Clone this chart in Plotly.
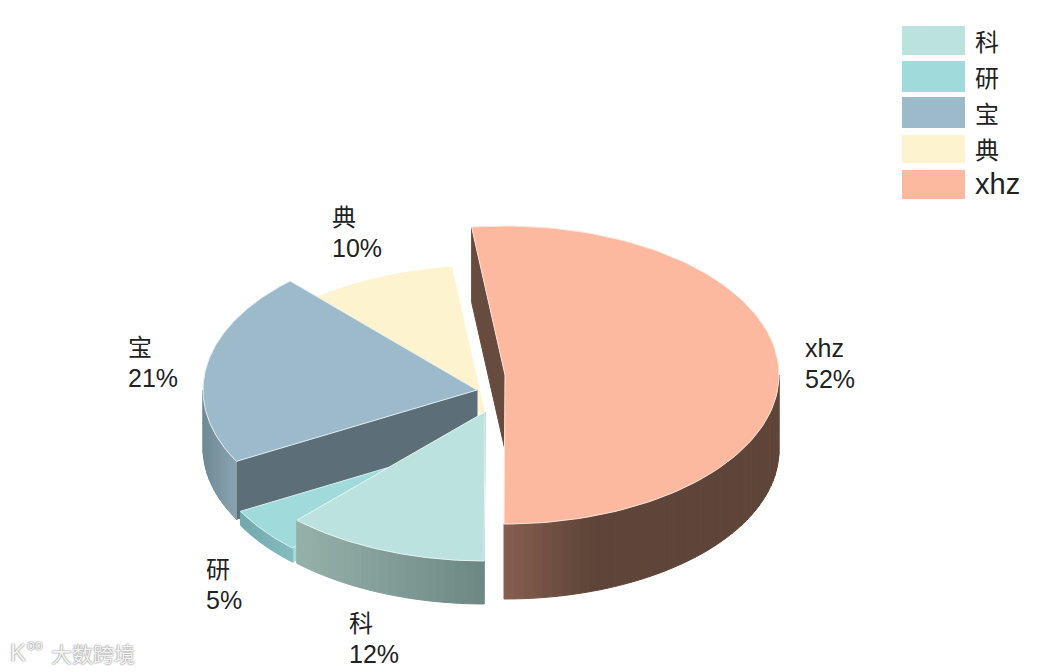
import numpy as np
import plotly.graph_objects as go

# ---- data ----
categories = ["科", "研", "宝", "典", "xhz"]
percents = [12, 5, 21, 10, 52]
legend_labels = ["科", "研", "宝", "典", "xhz"]

# ---- style (drawing order: back to front) ----
W, H = 1041, 672
RX, RY = 274, 149
START = -7.0  # where the xhz slice starts, clockwise from the top
APEX = {"xhz": (505, 375), "科": (485, 412), "研": (481, 440), "宝": (477, 390), "典": (485, 415)}
DEPTH = {"xhz": 75, "科": 43, "研": 14, "宝": 58, "典": 0}
TOP = {"科": "#bbe2dd", "研": "#a0dada", "宝": "#9cbaca", "典": "#fdf4cf", "xhz": "#fdb9a0"}
WALL_L = {"科": "#96b0aa", "研": "#72a8ab", "宝": "#6f8995", "典": "#c0b89c", "xhz": "#875f50"}
WALL_R = {"科": "#6d8783", "研": "#85bcbf", "宝": "#8aa3b0", "典": "#c0b89c", "xhz": "#5f4539"}
WALL_MID = {"xhz": 0.30}  # fraction of the visible wall over which the gradient runs
INNER = {"科": "#8fb0ab", "研": "#a5dbdc", "宝": "#5c6e78", "典": "#c0b89c", "xhz": "#684b3f"}
EDGE = {"科": "#e6f6f3", "研": "#d5f2f2", "宝": "#e4f0f5", "典": "#fdf4cf", "xhz": "#fde6da"}
DRAW_ORDER = ["典", "宝", "研", "科", "xhz"]

# angular spans derived from the values, clockwise: xhz first, then the others in order
order = ["xhz", "科", "研", "宝", "典"]
value = dict(zip(categories, percents))
span = {}
a = START
for name in order:
    span[name] = (a, a + value[name] * 3.6)
    a += value[name] * 3.6


def ell(name, t):
    t = np.radians(t)
    cx, cy = APEX[name]
    return cx + RX * np.sin(t), cy - RY * np.cos(t)


def hex2rgb(c):
    return np.array([int(c[i:i + 2], 16) for i in (1, 3, 5)], float)


def mix(c1, c2, f):
    v = hex2rgb(c1) * (1 - f) + hex2rgb(c2) * f
    return "rgb(%d,%d,%d)" % tuple(v.round())


fig = go.Figure()


def poly(xs, ys, fill, line=None, width=1):
    fig.add_trace(go.Scatter(
        x=list(xs), y=list(ys), mode="lines", fill="toself", fillcolor=fill,
        line=dict(color=line or fill, width=width), hoverinfo="skip", showlegend=False))


for name in DRAW_ORDER:
    t0, t1 = span[name]
    d = DEPTH[name]
    cx, cy = APEX[name]
    if d > 0:
        ox, oy = ell(name, t0)
        poly([cx, ox, ox, cx, cx], [cy, oy, oy + d, cy + d, cy], INNER[name])
        # curved outer wall, in bands, only over the part that faces the viewer
        lo = max(t0, 90.0)
        hi = min(t1, 270.0)
        n = max(int((hi - lo) / 2), 4)
        edges = np.linspace(lo, hi, n + 1)
        run = WALL_MID.get(name, 1.0)
        xl, xr = ell(name, lo)[0], ell(name, hi)[0]
        for i in range(n):
            tt = np.linspace(edges[i], edges[i + 1], 5)
            ex, ey = ell(name, tt)
            mx = 0.5 * (ex[0] + ex[-1])
            f = (mx - min(xl, xr)) / abs(xr - xl)
            f = min(f / run, 1.0)
            poly(np.r_[ex, ex[::-1], ex[0]], np.r_[ey, ey[::-1] + d, ey[0]],
                 mix(WALL_L[name], WALL_R[name], f))
    # top face
    tt = np.linspace(t0, t1, 120)
    ex, ey = ell(name, tt)
    poly(np.r_[cx, ex, cx], np.r_[cy, ey, cy], TOP[name], EDGE[name], 1)

# ---- slice labels ----
LABEL_POS = {"典": (330, 217), "宝": (126, 347), "研": (204, 569), "科": (347, 623), "xhz": (803, 348)}
LATIN = "Liberation Sans"
CJK = "Noto Sans CJK SC"
TXT = "#222222"


def label(x, y, text, size=25, color=TXT, family=None, **kw):
    fam = family or (LATIN if text.isascii() else CJK)
    fig.add_annotation(x=x, y=y, text=text, showarrow=False, xanchor="left", yanchor="middle",
                       xref="x", yref="y", font=dict(family=fam, size=size, color=color, **kw))


for name in categories:
    lx, ly = LABEL_POS[name]
    is_cjk = not name.isascii()
    label(lx, ly - (2 if is_cjk else 0), name, size=24 if is_cjk else 25)
    label(lx, ly + 31, f"{value[name]}%")

# ---- legend ----
LEG_X0, LEG_X1, LEG_TX = 902, 965, 973
LEG_Y = [(26, 55), (61, 92), (97, 128), (135, 163), (170, 199)]
LEG_TY = [40, 76, 112, 148, 184]
for name, (y0, y1), ty in zip(legend_labels, LEG_Y, LEG_TY):
    fig.add_shape(type="rect", xref="x", yref="y", x0=LEG_X0, x1=LEG_X1, y0=y0, y1=y1,
                  fillcolor=TOP[name], line=dict(width=0), layer="above")
    label(LEG_TX, ty, name, size=24 if name != "xhz" else 29)

# ---- watermark ----
SHADOW = "0 0 2px #888888, 0 0 1px #999999"
label(8, 652, "K", size=24, color="#f4f4f4", family=LATIN, shadow=SHADOW)
label(25, 645, "oo", size=14, color="#f4f4f4", family=LATIN, shadow=SHADOW)
label(49, 653, "大数跨境", size=21, color="#f4f4f4", family=CJK, shadow=SHADOW)

fig.update_xaxes(range=[0, W], visible=False, fixedrange=True)
fig.update_yaxes(range=[H, 0], visible=False, fixedrange=True)
fig.update_layout(width=W, height=H, margin=dict(l=0, r=0, t=0, b=0),
                  plot_bgcolor="white", paper_bgcolor="white", showlegend=False)

fig.write_html("out.html", config={"displayModeBar": False},
               post_script="document.body.style.margin='0';document.body.style.overflow='hidden';")
